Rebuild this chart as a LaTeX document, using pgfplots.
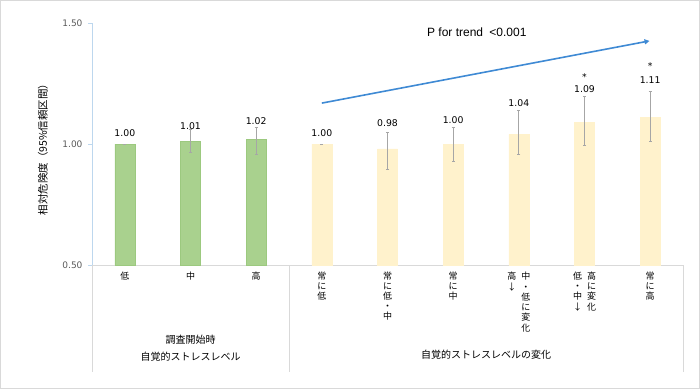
\documentclass[border=0pt]{standalone}
\usepackage{fontspec}
\setmainfont{DejaVu Sans}
\newfontfamily\jp{Noto Sans CJK JP}
\newfontfamily\arial{Liberation Sans}
\usepackage{pgfplots}
\usepackage{pgfplotstable}
\pgfplotsset{compat=1.18}
\usetikzlibrary{arrows.meta}
\definecolor{bargreen}{HTML}{A9D18E}
\definecolor{bargreenedge}{HTML}{9CC97F}
\definecolor{baryellow}{HTML}{FFF2CC}
\definecolor{errgray}{HTML}{A6A6A6}
\definecolor{axblue}{HTML}{BDD7EE}
\definecolor{framegray}{HTML}{D9D9D9}
\definecolor{arrowblue}{HTML}{3F8AD4}
\definecolor{ticktext}{HTML}{595959}

\pgfplotstableread{
x y ep em
0 1.00 0 0
1 1.01 0.052 0.043
2 1.02 0.049 0.063
}\greendata
\pgfplotstableread{
x y ep em
3 1.00 0 0
4 0.98 0.068 0.083
5 1.00 0.067 0.073
6 1.04 0.098 0.084
7 1.09 0.108 0.094
8 1.11 0.109 0.100
}\yellowdata

\newcommand\vstack[1]{{\jp\fontsize{9}{9.6}\selectfont\begin{tabular}[t]{@{}c@{}}#1\end{tabular}}}
\newcommand\lA{\vstack{低}}
\newcommand\lB{\vstack{中}}
\newcommand\lC{\vstack{高}}
\newcommand\lD{\vstack{常\\に\\低}}
\newcommand\lE{\vstack{常\\に\\低\\・\\中}}
\newcommand\lF{\vstack{常\\に\\中}}
\newcommand\lG{{\jp\fontsize{9}{9.6}\selectfont\begin{tabular}[t]{@{}c@{\hspace{5pt}}c@{}}高&中\\↓&・\\&低\\&に\\&変\\&化\end{tabular}}}
\newcommand\lH{{\jp\fontsize{9}{9.6}\selectfont\begin{tabular}[t]{@{}c@{\hspace{5pt}}c@{}}低&高\\・&に\\中&変\\↓&化\end{tabular}}}
\newcommand\lI{\vstack{常\\に\\高}}

\begin{document}
\begin{tikzpicture}
\useasboundingbox (-92pt,-124pt) rectangle (608pt,265pt);
\begin{axis}[
  at={(0pt,0pt)}, anchor=south west,
  scale only axis,
  width=591pt, height=242pt,
  xmin=-0.5, xmax=8.5,
  ymin=0.5, ymax=1.5,
  axis x line*=bottom,
  axis y line*=left,
  x axis line style={draw=framegray, line width=0.8pt},
  y axis line style={draw=axblue, line width=0.8pt},
  xtick={0,...,8},
  xticklabels={\lA,\lB,\lC,\lD,\lE,\lF,\lG,\lH,\lI},
  xtick style={draw=none},
  xticklabel style={anchor=north, yshift=-2pt, inner sep=1pt},
  ytick={0.5,1,1.5},
  ytick style={draw=axblue, line width=0.8pt},
  tick align=outside,
  major tick length=4pt,
  yticklabel style={font=\fontsize{9}{10}\selectfont, text=ticktext, xshift=-2pt,
    /pgf/number format/.cd, fixed, fixed zerofill, precision=2, assume math mode=true},
  ybar, bar width=20pt,
  error bars/y dir=both,
  error bars/y explicit,
  error bars/error bar style={errgray, line width=0.7pt},
  error bars/error mark options={rotate=90, errgray, mark size=1.6pt, line width=0.7pt},
]
\addplot+[bar shift=0pt, fill=bargreen, draw=bargreenedge, line width=0.4pt]
  table[x=x, y=y, y error plus=ep, y error minus=em] {\greendata};
\addplot+[bar shift=0pt, fill=baryellow, draw=baryellow, line width=0.4pt]
  table[x=x, y=y, y error plus=ep, y error minus=em] {\yellowdata};

\begin{scope}[every node/.style={font=\fontsize{9.3}{10}\selectfont, text=black, inner sep=1pt}]
\node at (axis cs:0,1.047) {1.00};
\node at (axis cs:1,1.074) {1.01};
\node at (axis cs:2,1.095) {1.02};
\node at (axis cs:3,1.044) {1.00};
\node at (axis cs:4,1.086) {0.98};
\node at (axis cs:5,1.099) {1.00};
\node at (axis cs:6,1.171) {1.04};
\node at (axis cs:7,1.227) {1.09};
\node at (axis cs:8,1.264) {1.11};
\node at (axis cs:7,1.275) {*};
\node at (axis cs:8,1.321) {*};
\end{scope}
\draw[arrowblue, line width=1.6pt, -{Triangle[length=5pt,width=5pt]}]
  (axis cs:3.0,1.169) -- (axis cs:7.99,1.426);
\node[font=\arial\fontsize{12}{14}\selectfont] at (axis cs:5.36,1.462) {P for trend\hspace{3pt} <0.001};
\end{axis}
% separators below axis
\draw[framegray, line width=0.8pt] (0pt,0pt) -- (0pt,-107pt);
\draw[framegray, line width=0.8pt] (197pt,0pt) -- (197pt,-107pt);
\draw[framegray, line width=0.8pt] (591pt,0pt) -- (591pt,-107pt);
% y label
\node[rotate=90, font=\jp\fontsize{10.5}{12}\selectfont] at (-49pt,118pt) {相対危険度（95\%信頼区間）};
% group labels
\node[font=\jp\fontsize{10}{17}\selectfont, align=center] at (98.5pt,-83.5pt) {調査開始時\\自覚的ストレスレベル};
\node[font=\jp\fontsize{10}{12}\selectfont] at (394pt,-90pt) {自覚的ストレスレベルの変化};
% frame
\draw[framegray, line width=1.5pt] (-91.25pt,-123.25pt) rectangle (607.25pt,264.25pt);
\end{tikzpicture}
\end{document}
